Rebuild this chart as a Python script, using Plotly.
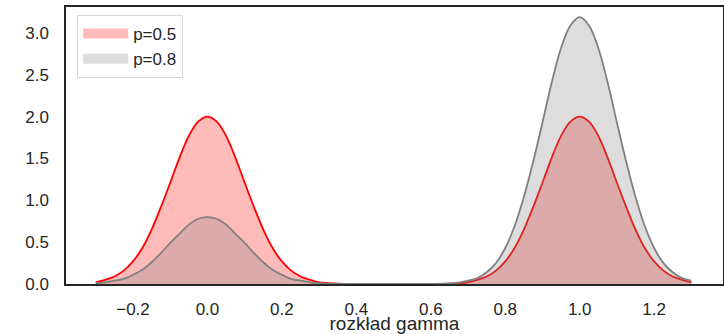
import plotly.graph_objects as go

# grid of sample positions (x)
x_vals = [-0.3, -0.275, -0.25, -0.225, -0.2, -0.175, -0.15, -0.125, -0.1, -0.075, -0.05, -0.025,
          0.0, 0.025, 0.05, 0.075, 0.1, 0.125, 0.15, 0.175, 0.2, 0.225, 0.25, 0.275, 0.3,
          0.325, 0.35, 0.375, 0.4, 0.425, 0.45, 0.475, 0.5, 0.525, 0.55, 0.575, 0.6, 0.625, 0.65, 0.675,
          0.7, 0.725, 0.75, 0.775, 0.8, 0.825, 0.85, 0.875, 0.9, 0.925, 0.95, 0.975,
          1.0, 1.025, 1.05, 1.075, 1.1, 1.125, 1.15, 1.175, 1.2, 1.225, 1.25, 1.275, 1.3]

# density for p=0.5
dens_p05 = [0.02, 0.05, 0.09, 0.16, 0.27, 0.43, 0.65, 0.92, 1.21, 1.51, 1.77, 1.94,
            2.00, 1.94, 1.77, 1.51, 1.21, 0.92, 0.65, 0.43, 0.27, 0.16, 0.09, 0.05, 0.02,
            0.01, 0.004, 0.002, 0.001, 0.0, 0.0, 0.0, 0.0, 0.0, 0.0, 0.0, 0.001, 0.002, 0.004, 0.01,
            0.02, 0.05, 0.09, 0.16, 0.27, 0.43, 0.65, 0.92, 1.21, 1.51, 1.77, 1.94,
            2.00, 1.94, 1.77, 1.51, 1.21, 0.92, 0.65, 0.43, 0.27, 0.16, 0.09, 0.05, 0.02]

# density for p=0.8
dens_p08 = [0.01, 0.02, 0.04, 0.06, 0.11, 0.17, 0.26, 0.37, 0.49, 0.60, 0.71, 0.78,
            0.80, 0.78, 0.71, 0.60, 0.49, 0.37, 0.26, 0.17, 0.11, 0.06, 0.04, 0.02, 0.01,
            0.004, 0.002, 0.001, 0.0, 0.0, 0.0, 0.0, 0.0, 0.0, 0.0, 0.0, 0.001, 0.003, 0.007, 0.016,
            0.04, 0.07, 0.14, 0.25, 0.43, 0.69, 1.04, 1.46, 1.93, 2.41, 2.82, 3.09,
            3.19, 3.09, 2.82, 2.41, 1.93, 1.46, 1.04, 0.69, 0.43, 0.25, 0.14, 0.07, 0.04]

series_names = ["p=0.5", "p=0.8"]
x_ticks = [-0.2, 0.0, 0.2, 0.4, 0.6, 0.8, 1.0, 1.2]
y_ticks = [0.0, 0.5, 1.0, 1.5, 2.0, 2.5, 3.0]

FONT = "Liberation Sans, Arial, sans-serif"
TXT = "#262626"

fig = go.Figure()
styles = [
    (dens_p05, "red", "rgba(255,0,0,0.27)"),
    (dens_p08, "grey", "rgba(128,128,128,0.27)"),
]
for name, (ys, lc, fc) in zip(series_names, styles):
    fig.add_trace(go.Scatter(x=x_vals, y=ys, mode="lines", line=dict(color=lc, width=1.8, shape="spline"),
                             fill="tozeroy", fillcolor=fc, showlegend=False, hoverinfo="skip"))
# legend patches
for name, (ys, lc, fc) in zip(series_names, styles):
    fig.add_trace(go.Scatter(x=[None], y=[None], mode="lines", name=name,
                             line=dict(color=fc, width=10)))

fig.update_layout(
    width=724, height=334,
    margin=dict(l=66, r=1, t=7, b=50),
    paper_bgcolor="white", plot_bgcolor="white",
    font=dict(family=FONT, size=17, color=TXT),
    legend=dict(x=0.017, y=0.971, xanchor="left", yanchor="top",
                bordercolor="#d8d8d8", borderwidth=1, bgcolor="rgba(255,255,255,0.8)",
                font=dict(size=17, color=TXT), itemwidth=45),
)
fig.update_xaxes(range=[-0.38, 1.385], tickvals=x_ticks, tickformat=".1f",
                 showgrid=False, zeroline=False, showline=True, mirror=True,
                 linecolor="#262626", linewidth=1.5, ticks="", ticklabelstandoff=9,
                 title=dict(text="rozkład gamma", font=dict(size=19, color=TXT), standoff=1),
                 automargin=False)
fig.update_yaxes(range=[0, 3.31], tickvals=y_ticks, tickformat=".1f",
                 showgrid=False, zeroline=False, showline=True, mirror=True,
                 linecolor="#262626", linewidth=1.5, ticks="", ticklabelstandoff=12,
                 automargin=False)

fig.write_html("out.html", config={"displayModeBar": False},
               post_script="document.body.style.margin='0';document.body.style.padding='0';")
